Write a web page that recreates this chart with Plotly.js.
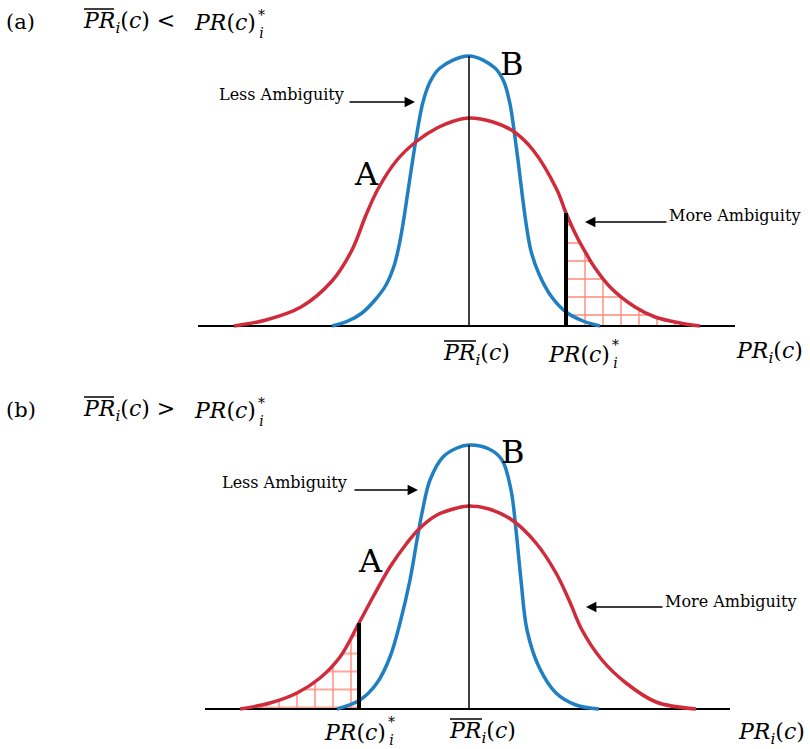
<!DOCTYPE html>
<html><head><meta charset="utf-8">
<script src="https://cdn.plot.ly/plotly-3.0.1.min.js"></script>
<style>html,body{margin:0;padding:0;background:#fff}#chart{width:810px;height:749px}</style>
</head><body><div id="chart"></div>
<script>
// ---- data: x = position on PR_i(c) axis relative to the mean, y = density height ----
// panel (a)
const redA_x  = [-235,-203,-168,-137,-117,-103,-91,-72,-52,-32,-15,0,24,44,64,88,97,108,118,126,141,166,186,211,231];
const redA_y  = [0,6,19,45,76,111,137,166,185,198,205,208,204,195,176,136,113,89,71,58,39,19,9,3,0];
const blueA_x = [-137,-121,-107,-94,-83,-75,-70,-66,-61,-56,-51,-46,-39,-29,0,26,35,41,45,49,53,57,62,70,82,97,114,131];
const blueA_y = [0,5,13,26,41,60,80,102,135,168,199,224,244,258,270,258,244,222,196,166,133,103,75,52,30,14,5,0];
const critA = 97;     // PR(c)*_i in panel (a)
// panel (b)
const redB_x  = [-229,-199,-172,-149,-129,-110,-96,-79,-62,-49,-32,-12,0,20,43,67,87,100,113,133,157,187,227];
const redB_y  = [0,6,16,31,52,86,112,142,166,181,194,201,203,200,189,166,136,109,79,49,26,7,0];
const blueB_x = [-132,-109,-92,-79,-69,-59,-52,-47,-39,-26,-12,0,20,33,42,47,52,58,70,87,107,130];
const blueB_y = [0,9,26,52,86,129,169,196,229,252,261,264,260,249,219,179,129,79,42,16,4,0];
const critB = -110;   // PR(c)*_i in panel (b)
const axisA = [-271, 266];
const axisB = [-264, 261];

const curveLabels = ['A', 'B'];
const panelLabels = ['(a)', '(b)'];
const noteLess = 'Less Ambiguity';
const noteMore = 'More Ambiguity';

// ---- styles ----
const W = 810, H = 749;
const RED = '#cf2b3b', BLUE = '#1f7fc3', HATCH = '#ff8a7a';
const SERIF = 'DejaVu Serif, serif';

function valueAt(xs, ys, x) {
  for (let i = 0; i < xs.length - 1; i++) {
    if (x >= xs[i] && x <= xs[i+1]) {
      const t = (x - xs[i]) / (xs[i+1] - xs[i]);
      return ys[i] + t * (ys[i+1] - ys[i]);
    }
  }
  return 0;
}

function panelTraces(rx, ry, bx, by, crit, side, axisExt, xa, ya) {
  const hx = [], hy = [];
  rx.forEach((v, i) => { if ((side > 0 && v >= crit) || (side < 0 && v <= crit)) { hx.push(v); hy.push(ry[i]); } });
  const common = {xaxis: xa, yaxis: ya, mode: 'lines', hoverinfo: 'skip', showlegend: false};
  return [
    Object.assign({}, common, {x: hx, y: hy, fill: 'tozeroy', fillcolor: 'rgba(0,0,0,0)',
      fillpattern: {shape: '+', fgcolor: HATCH, bgcolor: 'rgba(0,0,0,0)', size: 18, solidity: 0.15},
      line: {width: 0, shape: 'spline'}}),
    Object.assign({}, common, {x: axisExt, y: [0, 0], line: {color: '#000', width: 2}}),
    Object.assign({}, common, {x: bx, y: by, line: {color: BLUE, width: 3.5, shape: 'spline', smoothing: 1}}),
    Object.assign({}, common, {x: rx, y: ry, line: {color: RED, width: 3.5, shape: 'spline', smoothing: 1}}),
    Object.assign({}, common, {x: [0, 0], y: [0, Math.max(...by)], line: {color: '#000', width: 1.5}}),
    Object.assign({}, common, {x: [crit, crit], y: [0, valueAt(rx, ry, crit)], line: {color: '#000', width: 4}})
  ];
}

const traces = [].concat(
  panelTraces(redA_x, redA_y, blueA_x, blueA_y, critA, 1, axisA, 'x', 'y'),
  panelTraces(redB_x, redB_y, blueB_x, blueB_y, critB, -1, axisB, 'x2', 'y2')
);

function ann(text, xp, yp, font, xanchor) {
  return {xref: 'paper', yref: 'paper', x: xp / W, y: 1 - yp / H, text: text, showarrow: false,
          xanchor: xanchor || 'left', yanchor: 'middle', font: font, borderpad: 0};
}
function arrow(tipx, tipy, tailx) {
  return {xref: 'paper', yref: 'paper', x: tipx / W, y: 1 - tipy / H, ax: tailx - tipx, ay: 0,
          axref: 'pixel', ayref: 'pixel', text: '', showarrow: true, arrowhead: 2, arrowsize: 1.3,
          arrowwidth: 1.6, arrowcolor: '#000', standoff: 0};
}
function overline(x0, x1, yp) {
  return {type: 'line', xref: 'paper', yref: 'paper', x0: x0 / W, x1: x1 / W, y0: 1 - yp / H, y1: 1 - yp / H,
          line: {color: '#000', width: 1.5}};
}
const fMath = {family: SERIF, size: 22, color: '#000'};
const fStack = {family: SERIF, size: 14, color: '#000'};
const fLabel = {family: SERIF, size: 21, color: '#000'};
const fNote = {family: SERIF, size: 16, color: '#000'};
const fBig = {family: SERIF, size: 32, color: '#000'};

const barPR = '<i>PR</i><sub><i>i</i></sub>(<i>c</i>)';
const starPR = '<i>PR</i>(<i>c</i>)';
const stackIS = '*<br><i>i</i>';
const plainPR = '<i>PR</i><sub><i>i</i></sub>(<i>c</i>)';

const annotations = [
  ann(panelLabels[0], 5, 22, fLabel), ann(barPR + ' &lt;', 82, 22, fMath),
  ann(starPR, 257, 22, fMath, 'right'), ann(stackIS, 257, 24, fStack),
  ann(panelLabels[1], 5, 410, fLabel), ann(barPR + ' &gt;', 82, 410, fMath),
  ann(starPR, 257, 410, fMath, 'right'), ann(stackIS, 257, 412, fStack),
  // panel a
  ann(noteLess, 345, 95, fNote, 'right'), arrow(415, 102, 348),
  ann(noteMore, 668, 215, fNote), arrow(585, 222, 668),
  ann(curveLabels[0], 366, 174, fBig, 'center'), ann(curveLabels[1], 512, 64, fBig, 'center'),
  ann(barPR, 442, 354, fMath), ann(starPR, 611, 354, fMath, 'right'), ann(stackIS, 611, 354, fStack),
  ann(plainPR, 735, 352, fMath),
  // panel b
  ann(noteLess, 348, 483, fNote, 'right'), arrow(418, 490, 353),
  ann(noteMore, 664, 601, fNote), arrow(586, 607, 664),
  ann(curveLabels[0], 370, 561, fBig, 'center'), ann(curveLabels[1], 513, 452, fBig, 'center'),
  ann(starPR, 387, 732, fMath, 'right'), ann(stackIS, 387, 731, fStack),
  ann(barPR, 448, 732, fMath), ann(plainPR, 737, 733, fMath)
];
const shapes = [overline(84, 114, 9), overline(444, 476, 341), overline(84, 114, 397), overline(450, 482, 719)];

const hidden = {visible: false, fixedrange: true};
const layout = {
  width: W, height: H, margin: {l: 0, r: 0, t: 0, b: 0},
  paper_bgcolor: '#fff', plot_bgcolor: 'rgba(0,0,0,0)', showlegend: false,
  xaxis: Object.assign({domain: [0, 1], range: [-469, 341], anchor: 'y'}, hidden),
  yaxis: Object.assign({domain: [0.5, 1], range: [-48.5, 326], anchor: 'x'}, hidden),
  xaxis2: Object.assign({domain: [0, 1], range: [-469, 341], anchor: 'y2'}, hidden),
  yaxis2: Object.assign({domain: [0, 0.5], range: [-40, 334.5], anchor: 'x2'}, hidden),
  annotations: annotations, shapes: shapes
};
Plotly.newPlot('chart', traces, layout, {staticPlot: true, displayModeBar: false});
</script></body></html>
